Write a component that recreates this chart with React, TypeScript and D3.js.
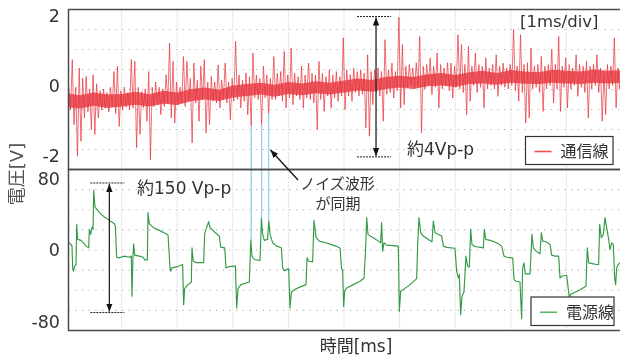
import React, { useEffect, useRef } from 'react';
import * as d3 from 'd3';

// 通信線: envelope of the noisy trace, one column every 1/16 ms from 0.05 ms
const commStart = 0.05;
const commStep = 0.0625;
const commHigh = [
  -0.1, 0.74, -0.05, 0.5, 0.21, 0.26, -0.1, 0.31, 0.05, -0.15,
  -0.1, -0.2, -0.05, 0.4, 0.55, -0.15, -0.05, -0.2, 0.74, 0.69,
  -0.05, -0.17, -0.1, 0.4, -0.05, 0.1, -0.05, -0.1, 0.31, 1.21,
  0.69, 0.1, -0.05, 0.83, 0.69, 0.2, 0.64, 0.15, 0.55, 0.74,
  0.1, 0.26, 0.1, 0.59, 0.15, 0.64, 0.1, 0.2, 1.26, 0.3,
  0.15, 0.36, 0.25, 0.93, 0.3, 0.2, 0.55, 0.3, 0.2, 0.83,
  0.35, 0.4, 0.98, 0.3, 1.07, 0.35, 0.25, 0.55, 0.3, 0.64,
  0.35, 0.3, 0.69, 0.35, 0.25, 0.45, 0.3, 0.4, 0.25, 1.36,
  0.45, 0.31, 0.5, 0.4, 0.45, 0.35, 0.88, 0.4, 0.45, 0.5,
  0.4, 1.31, 0.45, 0.64, 0.4, 1.95, 1.17, 0.55, 0.6, 0.5,
  0.65, 1.4, 0.55, 0.6, 0.79, 0.55, 0.93, 0.6, 0.5, 0.65,
  0.64, 0.55, 1.45, 1.17, 0.6, 1.12, 0.55, 0.93, 0.6, 0.55,
  0.79, 0.5, 0.6, 0.88, 0.55, 0.64, 0.5, 0.6, 1.6, 0.55,
  1.45, 0.6, 0.65, 1.07, 0.55, 0.6, 0.83, 0.55, 0.6, 1.03,
  0.6, 1.4, 0.55, 0.79, 0.6, 0.5, 0.88, 0.6, 0.55, 0.69,
  0.55, 0.6, 0.88, 0.5, 0.4, 0.6, 0.55, 1.36, 0.5, 0.55,
];
const commLow = [
  -0.7, -1.12, -2.02, -1.59, -0.93, -0.75, -1.26, -1.4, -0.93, -0.7,
  -0.65, -0.75, -0.6, -0.8, -1.17, -0.7, -0.62, -0.7, -0.65, -1.78,
  -1.4, -0.64, -1.02, -2.12, -0.6, -0.55, -0.83, -0.6, -0.5, -0.93,
  -1.07, -0.55, -0.5, -0.6, -0.45, -1.64, -0.5, -1.02, -0.4, -1.36,
  -1.12, -0.45, -0.5, -0.64, -0.4, -0.5, -0.98, -0.45, -0.4, -0.64,
  -0.45, -0.83, -1.15, -0.35, -0.4, -1.12, -0.35, -0.8, -0.4, -0.4,
  -0.3, -0.45, -0.64, -0.35, -0.55, -0.3, -0.4, -0.64, -0.35, -0.4,
  -0.5, -1.26, -0.4, -0.74, -0.3, -0.64, -0.35, -0.45, -0.3, -0.69,
  -0.3, -0.45, -0.2, -0.3, -0.25, -1.21, -1.45, -0.55, -0.2, -0.3,
  -1.02, -0.25, -0.2, -0.36, -0.15, -0.64, -0.55, -0.05, 0.0, -0.1,
  -0.05, -1.35, -0.1, 0.0, -0.26, -0.05, -0.64, -0.1, 0.0, -0.15,
  -0.36, -0.05, -0.1, -0.2, -0.83, -0.45, 0.0, -0.2, -0.05, -0.64,
  -0.1, 0.0, -0.1, -0.31, 0.0, -0.05, -0.1, 0.0, -0.15, -0.45,
  -0.2, -1.07, -0.93, -0.1, -0.05, -0.2, -0.74, -0.1, 0.0, -0.5,
  -0.1, -0.74, -0.05, -0.64, -0.1, 0.0, -0.31, -0.05, -0.2, -0.93,
  -0.1, 0.0, -0.2, -1.02, -0.83, -0.1, 0.0, -0.64, -0.1, 0.05,
];

// dense core of 通信線 (where the trace is solid red), every 0.25 ms
const coreTime = [
  0, 0.25, 0.5, 0.75, 1, 1.25, 1.5, 1.75, 2, 2.25,
  2.5, 2.75, 3, 3.25, 3.5, 3.75, 4, 4.25, 4.5, 4.75,
  5, 5.25, 5.5, 5.75, 6, 6.25, 6.5, 6.75, 7, 7.25,
  7.5, 7.75, 8, 8.25, 8.5, 8.75, 9, 9.25, 9.5, 9.75, 10,
];
const coreHigh = [
  -0.22, -0.28, -0.2, -0.26, -0.24, -0.18, -0.25, -0.15, -0.2, -0.1,
  -0.06, -0.12, 0.0, 0.04, 0.08, 0.02, 0.1, 0.06, 0.12, 0.08,
  0.14, 0.2, 0.16, 0.24, 0.28, 0.24, 0.32, 0.36, 0.3, 0.38,
  0.42, 0.36, 0.44, 0.4, 0.38, 0.45, 0.42, 0.4, 0.46, 0.42, 0.44,
];
const coreLow = [
  -0.62, -0.66, -0.58, -0.64, -0.6, -0.55, -0.6, -0.52, -0.56, -0.45,
  -0.4, -0.44, -0.34, -0.3, -0.26, -0.32, -0.24, -0.28, -0.22, -0.26,
  -0.2, -0.14, -0.18, -0.1, -0.06, -0.1, -0.02, 0.0, -0.04, 0.04,
  0.06, 0.02, 0.08, 0.05, 0.04, 0.08, 0.06, 0.04, 0.08, 0.06, 0.08,
];

// 電源線: time [ms] / voltage [V]
const powerTime = [
  0.05, 0.09, 0.108, 0.12, 0.132, 0.156, 0.18, 0.192, 0.21, 0.27,
  0.33, 0.36, 0.408, 0.42, 0.444, 0.468, 0.486, 0.498, 0.522, 0.6,
  0.69, 0.78, 0.87, 0.887, 0.911, 0.959, 1.049, 1.139, 1.175, 1.187,
  1.205, 1.217, 1.235, 1.319, 1.391, 1.415, 1.463, 1.475, 1.499, 1.571,
  1.679, 1.799, 1.835, 1.871, 1.883, 1.906, 2.008, 2.098, 2.116, 2.134,
  2.194, 2.254, 2.266, 2.29, 2.338, 2.476, 2.494, 2.518, 2.566, 2.59,
  2.668, 2.758, 2.782, 2.854, 2.878, 2.938, 3.046, 3.07, 3.094, 3.147,
  3.297, 3.325, 3.345, 3.387, 3.49, 3.515, 3.535, 3.567, 3.625, 3.648,
  3.67, 3.717, 3.789, 3.873, 3.897, 3.927, 4.005, 4.029, 4.053, 4.137,
  4.227, 4.317, 4.335, 4.365, 4.436, 4.46, 4.496, 4.556, 4.676, 4.796,
  4.856, 4.93, 4.955, 4.975, 4.994, 5.012, 5.048, 5.168, 5.288, 5.36,
  5.384, 5.396, 5.408, 5.432, 5.468, 5.528, 5.617, 5.659, 5.677, 5.695,
  5.719, 5.767, 5.977, 5.995, 6.019, 6.067, 6.187, 6.307, 6.325, 6.349,
  6.379, 6.427, 6.517, 6.583, 6.607, 6.637, 6.697, 6.757, 6.787, 6.846,
  6.996, 7.026, 7.056, 7.074, 7.098, 7.122, 7.158, 7.194, 7.224, 7.254,
  7.278, 7.302, 7.356, 7.506, 7.524, 7.548, 7.626, 7.746, 7.836, 7.878,
  7.926, 8.034, 8.058, 8.094, 8.165, 8.195, 8.213, 8.237, 8.261, 8.345,
  8.381, 8.405, 8.453, 8.525, 8.549, 8.573, 8.633, 8.705, 8.735, 8.795,
  8.861, 8.885, 8.915, 9.005, 9.053, 9.077, 9.095, 9.245, 9.352, 9.376,
  9.4, 9.544, 9.58, 9.598, 9.628, 9.664, 9.694, 9.724, 9.76, 9.784,
  9.814, 9.844, 9.868, 9.886, 9.904, 9.934, 9.964, 10.0,
];
const powerVolt = [
  8.6, 6.8, 4.9, -19.5, -23.2, -17.6, -15.7, 29.2, 12.4, 11.3,
  7.5, 4.9, 3, 23.6, 18, 26.2, 23.6, 67.4, 48.7, 42.3,
  37.5, 33.7, 30, 27.4, -7.5, -8.2, -6.3, -7.5, -6.3, -51.3,
  -6.3, 7.5, -5.2, -6.3, -7.5, -10.5, -10.5, 42.3, 30, 25.5,
  22.5, 18.8, 17.3, -19.5, -23.2, -19.5, -18, -15.7, -60.6, -42.7,
  -38.2, -35.6, 3, -12, -13.5, -13.5, 18.8, 23.6, 32.2, 25.5,
  21, 16.1, 3.8, 3, -19.5, -18, -17.2, -64.4, -42.7, -38.2,
  -35.2, 12, -6.3, -10.1, -11.2, 36, 18.8, 11.3, 12.4, 33,
  18, 8.6, 4.9, 3, -19.5, -22.5, -20.6, -64.4, -46.4, -42.7,
  -40.4, -38.2, -8.2, -12, -12.7, 33.7, 15, 10.5, 8.6, 6,
  4.9, 2.5, -20, -22, -62.5, -45.7, -41.9, -38.2, -34.4, -30.7,
  -4.5, 14.3, 36.7, 18, 16.1, 14.3, 10.5, 8.6, 31.1, -0.7,
  8.6, 6, 4.9, -68.1, -45.7, -43.8, -38.2, -31.4, 6.8, 36.7,
  19.9, 16.1, 12.4, 9.8, 33, 19.9, 18, 16.1, 4.9, 3.5,
  2.5, -23.2, -30.7, -27, -71.9, -51.3, -46.4, -6.3, -17.6, -18.5,
  23.6, 6.8, 4.5, 3, 23.6, 12.4, 11.3, 8.6, 4.9, -6.3,
  -7.5, -8.5, -32.6, -34.4, -35.2, -76.4, -19.5, -13.8, -26.2, -26.2,
  18, 3, -0.7, -3.7, 19.9, 10.5, 9.8, 6.8, -5.2, -6.3,
  -6.3, -30.7, -28.8, -27.7, -53.2, -48.7, -48.7, -43.8, -40.1, 3,
  -13.8, -15.7, -15.7, 29.2, 14.3, 18, 36.7, 25.5, 12.4, 1.1,
  8.6, 6.8, -30.7, -38.2, -19.5, -15.7, -13.8, -14,
];

const commTicks = [-2, 0, 2];
const powerTicks = [-80, 0, 80];
const timeGrid = [1, 2, 3, 4, 5, 6, 7, 8, 9];

// light blue markers: noise on 通信線 lines up with steps on 電源線
const syncTime = [3.331, 3.519, 3.644];
const syncComm = [-1.15, -1.12, -0.8];
const syncPower = [12, 36, 33];

// peak-to-peak markers
const commPP = [1.97, -2.04];
const powerPP = [75.5, -69.4];

const FONT = "'DejaVu Sans', 'Noto Sans CJK JP', sans-serif";
const JP = "'Noto Sans CJK JP', sans-serif";

export default function App() {
  const svgRef = useRef<SVGSVGElement>(null);

  useEffect(() => {
    const width = 620;
    const height = 356;
    const left = 68.5;
    const right = 622;
    const top1 = 9.5, bot1 = 169.5;
    const top2 = 169.5, bot2 = 330.5;

    const svg = d3.select(svgRef.current);
    svg.selectAll('*').remove();
    svg.attr('width', width).attr('height', height);

    const x = d3.scaleLinear().domain([0, 10]).range([66, 622]);
    const yComm = d3.scaleLinear().domain([-2.4, 2.171]).range([bot1, top1]);
    const yPower = d3.scaleLinear().domain([-89.5, 90.6]).range([bot2, top2]);

    const defs = svg.append('defs');
    defs.append('clipPath').attr('id', 'clipTop')
      .append('rect').attr('x', left).attr('y', top1).attr('width', right - left).attr('height', bot1 - top1);
    defs.append('clipPath').attr('id', 'clipBottom')
      .append('rect').attr('x', left).attr('y', top2).attr('width', right - left).attr('height', bot2 - top2);
    defs.append('marker')
      .attr('id', 'head')
      .attr('viewBox', '0 0 10 10')
      .attr('refX', 10).attr('refY', 5)
      .attr('markerUnits', 'userSpaceOnUse')
      .attr('markerWidth', 8).attr('markerHeight', 8)
      .attr('orient', 'auto-start-reverse')
      .append('path').attr('d', 'M0,1 L10,5 L0,9 Z').attr('fill', '#111');

    // grid
    const grid = svg.append('g');
    timeGrid.forEach(t => {
      grid.append('line')
        .attr('x1', x(t)).attr('x2', x(t))
        .attr('y1', top1).attr('y2', bot2)
        .attr('stroke', '#c8c8c8').attr('stroke-width', 1)
        .attr('stroke-dasharray', '1,1.5');
    });
    [[top1, bot1], [top2, bot2]].forEach(([a, b]) => {
      d3.range(1, 8).forEach(k => {
        const yy = a + (k * (b - a)) / 8;
        grid.append('line')
          .attr('x1', left).attr('x2', right)
          .attr('y1', yy).attr('y2', yy)
          .attr('stroke', '#b8b8b8').attr('stroke-width', 1.2)
          .attr('stroke-dasharray', '1.3,5.4');
      });
    });

    // sync markers (behind the traces)
    syncTime.forEach((t, i) => {
      svg.append('line')
        .attr('x1', x(t)).attr('x2', x(t))
        .attr('y1', yComm(syncComm[i])).attr('y2', yPower(syncPower[i]))
        .attr('stroke', '#9fd6ee').attr('stroke-width', 1.5);
    });

    // 通信線 core band
    const coreArea = d3.area<number>()
      .x((d, i) => x(coreTime[i]))
      .y0((d, i) => yComm(coreLow[i]))
      .y1(d => yComm(d));
    svg.append('path')
      .datum(coreHigh)
      .attr('clip-path', 'url(#clipTop)')
      .attr('fill', '#e41f29')
      .attr('fill-opacity', 0.7)
      .attr('d', coreArea);

    // 通信線 trace
    const commPts: [number, number][] = [];
    commHigh.forEach((h, i) => {
      const t = commStart + i * commStep;
      commPts.push([t, h]);
      commPts.push([t + commStep / 2, commLow[i]]);
    });
    const commLine = d3.line<[number, number]>()
      .x(d => x(d[0]))
      .y(d => yComm(d[1]));
    svg.append('path')
      .datum(commPts)
      .attr('clip-path', 'url(#clipTop)')
      .attr('fill', 'none')
      .attr('stroke', '#e8303a')
      .attr('stroke-opacity', 0.78)
      .attr('stroke-width', 0.9)
      .attr('d', commLine);

    // 電源線 trace
    const powerLine = d3.line<number>()
      .x((d, i) => x(powerTime[i]))
      .y(d => yPower(d));
    svg.append('path')
      .datum(powerVolt)
      .attr('clip-path', 'url(#clipBottom)')
      .attr('fill', 'none')
      .attr('stroke', '#349a45')
      .attr('stroke-width', 1.15)
      .attr('stroke-linejoin', 'round')
      .attr('d', powerLine);

    // panel frames
    svg.append('rect')
      .attr('x', left).attr('y', top1).attr('width', right - left).attr('height', bot1 - top1)
      .attr('fill', 'none').attr('stroke', '#4a4a4a').attr('stroke-width', 1.5);
    svg.append('rect')
      .attr('x', left).attr('y', top2).attr('width', right - left).attr('height', bot2 - top2)
      .attr('fill', 'none').attr('stroke', '#4a4a4a').attr('stroke-width', 1.5);

    // tick labels
    commTicks.forEach(v => {
      svg.append('text')
        .attr('x', 60).attr('y', yComm(v) + 6.5)
        .attr('text-anchor', 'end')
        .attr('font-family', FONT).attr('font-size', 17.5)
        .attr('fill', '#333')
        .text(v);
    });
    powerTicks.forEach(v => {
      svg.append('text')
        .attr('x', 60).attr('y', yPower(v) + 6)
        .attr('text-anchor', 'end')
        .attr('font-family', FONT).attr('font-size', 17.5)
        .attr('fill', '#333')
        .text(v);
    });

    // axis titles
    svg.append('text')
      .attr('transform', 'translate(23,174) rotate(-90)')
      .attr('text-anchor', 'middle')
      .attr('font-family', FONT).attr('font-size', 18)
      .attr('fill', '#555')
      .text('電圧[V]');
    svg.append('text')
      .attr('x', 356).attr('y', 352)
      .attr('text-anchor', 'middle')
      .attr('font-family', FONT).attr('font-size', 17)
      .attr('fill', '#333')
      .text('時間[ms]');

    // top annotations
    svg.append('text')
      .attr('x', 520).attr('y', 27)
      .attr('font-family', FONT).attr('font-size', 16.5)
      .attr('fill', '#333')
      .text('[1ms/div]');

    const ppMarker = (t: number, yA: number, yB: number) => {
      const cx = x(t);
      [yA, yB].forEach(yy => {
        svg.append('line')
          .attr('x1', cx - 19).attr('x2', cx + 15)
          .attr('y1', yy).attr('y2', yy)
          .attr('stroke', '#222').attr('stroke-width', 1)
          .attr('stroke-dasharray', '2,1');
      });
      svg.append('line')
        .attr('x1', cx).attr('x2', cx)
        .attr('y1', yA + 1).attr('y2', yB - 1)
        .attr('stroke', '#222').attr('stroke-width', 1.3)
        .attr('marker-start', 'url(#head)')
        .attr('marker-end', 'url(#head)');
    };
    ppMarker(5.576, yComm(commPP[0]), yComm(commPP[1]));
    ppMarker(0.78, yPower(powerPP[0]), yPower(powerPP[1]));

    svg.append('text')
      .attr('x', 407).attr('y', 155)
      .attr('font-family', FONT).attr('font-size', 17)
      .attr('fill', '#333')
      .text('約4Vp-p');
    svg.append('text')
      .attr('x', 137).attr('y', 193.5)
      .attr('font-family', FONT).attr('font-size', 17)
      .attr('fill', '#333')
      .text('約150 Vp-p');

    // noise note + arrow
    svg.append('line')
      .attr('x1', 298).attr('y1', 180)
      .attr('x2', 270.5).attr('y2', 150)
      .attr('stroke', '#111').attr('stroke-width', 1.3)
      .attr('marker-end', 'url(#head)');
    svg.append('text')
      .attr('x', 337.5).attr('y', 188.5)
      .attr('text-anchor', 'middle')
      .attr('font-family', JP).attr('font-size', 15)
      .attr('fill', '#333')
      .text('ノイズ波形');
    svg.append('text')
      .attr('x', 338).attr('y', 208.5)
      .attr('text-anchor', 'middle')
      .attr('font-family', JP).attr('font-size', 15)
      .attr('fill', '#333')
      .text('が同期');

    // legends
    const legend = (lx: number, ly: number, w: number, h: number, color: string, label: string) => {
      svg.append('rect')
        .attr('x', lx).attr('y', ly).attr('width', w).attr('height', h)
        .attr('fill', '#fff').attr('stroke', '#333').attr('stroke-width', 1.2);
      svg.append('line')
        .attr('x1', lx + 9).attr('x2', lx + 26)
        .attr('y1', ly + h / 2 + 1).attr('y2', ly + h / 2 + 1)
        .attr('stroke', color).attr('stroke-width', 1.6);
      svg.append('text')
        .attr('x', lx + 35).attr('y', ly + h / 2 + 6.5)
        .attr('font-family', JP).attr('font-size', 16)
        .attr('fill', '#333')
        .text(label);
    };
    legend(525.5, 136.5, 87.5, 28, '#ee5258', '通信線');
    legend(531, 297, 83, 28.5, '#5cb865', '電源線');
  }, []);

  return (
    <div style={{ position: 'fixed', left: 0, top: 0 }}>
      <svg ref={svgRef} style={{ display: 'block' }} />
    </div>
  );
}
